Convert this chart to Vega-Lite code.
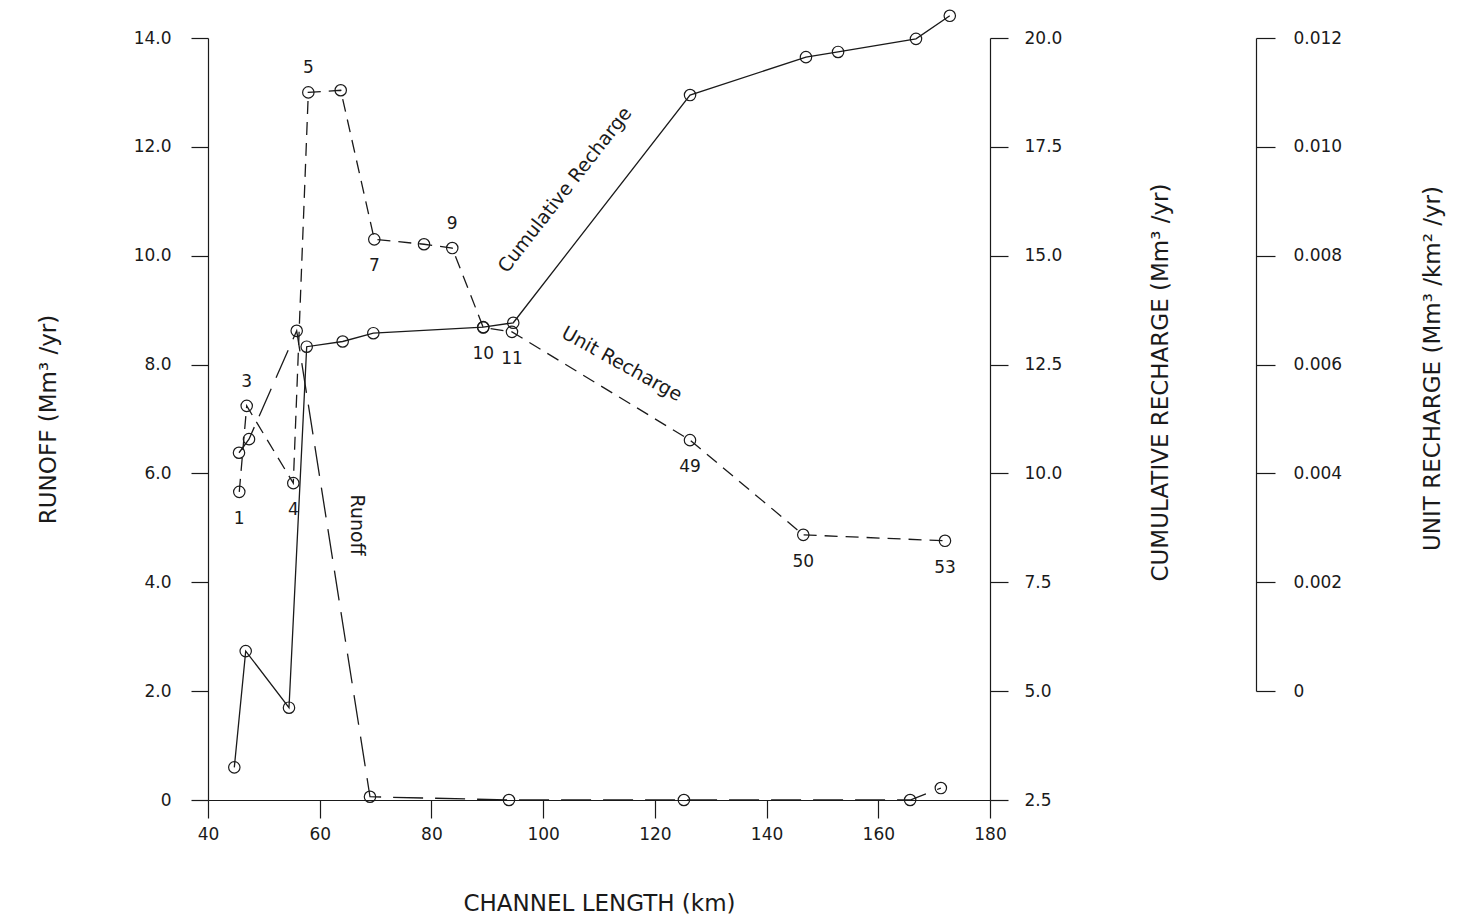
{
  "$schema": "https://vega.github.io/schema/vega-lite/v6.json",
  "width": 782,
  "height": 762,
  "autosize": {"type": "none"},
  "padding": {"left": 208, "top": 38, "right": 476, "bottom": 120},
  "background": "white",
  "config": {
    "view": {"stroke": null},
    "axis": {
      "grid": false,
      "domainColor": "#1a1a1a",
      "domainWidth": 1.2,
      "tickColor": "#1a1a1a",
      "tickWidth": 1.2,
      "labelFont": "DejaVu Sans",
      "labelFontSize": 17,
      "labelColor": "#1a1a1a",
      "labelFlush": false,
      "labelOverlap": false,
      "labelBound": false,
      "titleFont": "DejaVu Sans",
      "titleFontSize": 23,
      "titleFontWeight": "normal",
      "titleColor": "#1a1a1a"
    }
  },
  "datasets": {
    "runoff": [
      {"km": 45.55, "runoff": 6.38},
      {"km": 47.34, "runoff": 6.63},
      {"km": 55.88, "runoff": 8.62},
      {"km": 69.0, "runoff": 0.06},
      {"km": 93.88, "runoff": 0.0},
      {"km": 125.2, "runoff": 0.0},
      {"km": 165.7, "runoff": 0.0},
      {"km": 171.2, "runoff": 0.22}
    ],
    "cumulative": [
      {"km": 44.71, "cumulative": 3.25},
      {"km": 46.75, "cumulative": 5.92},
      {"km": 54.5, "cumulative": 4.62},
      {"km": 57.67, "cumulative": 12.91},
      {"km": 64.11, "cumulative": 13.03},
      {"km": 69.6, "cumulative": 13.22},
      {"km": 89.28, "cumulative": 13.36},
      {"km": 94.65, "cumulative": 13.46},
      {"km": 126.3, "cumulative": 18.69},
      {"km": 147.05, "cumulative": 19.56},
      {"km": 152.8, "cumulative": 19.68},
      {"km": 166.75, "cumulative": 19.98},
      {"km": 172.8, "cumulative": 20.51}
    ],
    "unit": [
      {"km": 45.6, "unit": 0.00366, "label": "1"},
      {"km": 46.93, "unit": 0.00524, "label": "3"},
      {"km": 55.27, "unit": 0.00382, "label": "4"},
      {"km": 57.96, "unit": 0.011, "label": "5"},
      {"km": 63.76, "unit": 0.01104, "label": ""},
      {"km": 69.77, "unit": 0.0083, "label": "7"},
      {"km": 78.67, "unit": 0.00821, "label": ""},
      {"km": 83.73, "unit": 0.00814, "label": "9"},
      {"km": 89.28, "unit": 0.00668, "label": "10"},
      {"km": 94.42, "unit": 0.0066, "label": "11"},
      {"km": 126.29, "unit": 0.00461, "label": "49"},
      {"km": 146.57, "unit": 0.00287, "label": "50"},
      {"km": 171.94, "unit": 0.00276, "label": "53"}
    ],
    "notes": [
      {"km": 103.9, "runoff": 11.21, "note": "Cumulative Recharge"},
      {"km": 114.1, "runoff": 8.01, "note": "Unit Recharge"},
      {"km": 66.67, "runoff": 5.05, "note": "Runoff"}
    ]
  },
  "encoding": {
    "x": {
      "field": "km",
      "type": "quantitative",
      "scale": {"domain": [40, 180], "nice": false, "zero": false},
      "axis": {
        "values": [40, 60, 80, 100, 120, 140, 160, 180],
        "format": "d",
        "tickSize": 18,
        "labelPadding": 8,
        "title": "CHANNEL LENGTH (km)",
        "titleY": 103,
        "titleBaseline": "middle"
      }
    }
  },
  "layer": [
    {
      "layer": [
        {
          "data": {"name": "runoff"},
          "mark": {"type": "line", "color": "#1a1a1a", "strokeWidth": 1.3, "strokeDash": [30, 12]},
          "encoding": {
            "y": {
              "field": "runoff",
              "type": "quantitative",
              "scale": {"domain": [0, 14], "nice": false, "zero": false},
              "axis": {
                "orient": "left",
                "values": [0, 2, 4, 6, 8, 10, 12, 14],
                "labelExpr": "datum.value === 0 ? '0' : format(datum.value, '.1f')",
                "tickSize": 17,
                "labelPadding": 20,
                "title": "RUNOFF (Mm³ /yr)",
                "titleX": -160,
                "titleY": 381,
                "titleAngle": 270,
                "titleAlign": "center",
                "titleBaseline": "middle"
              }
            }
          }
        },
        {
          "data": {"name": "runoff"},
          "mark": {"type": "point", "filled": false, "color": "#1a1a1a", "strokeWidth": 1.2, "size": 130, "opacity": 1},
          "encoding": {"y": {"field": "runoff", "type": "quantitative"}}
        },
        {
          "data": {"name": "notes"},
          "transform": [{"filter": "datum.note === 'Cumulative Recharge'"}],
          "mark": {"type": "text", "font": "DejaVu Sans", "fontSize": 19, "color": "#1a1a1a", "angle": -52, "align": "center", "baseline": "middle"},
          "encoding": {"y": {"field": "runoff", "type": "quantitative"}, "text": {"field": "note"}}
        },
        {
          "data": {"name": "notes"},
          "transform": [{"filter": "datum.note === 'Unit Recharge'"}],
          "mark": {"type": "text", "font": "DejaVu Sans", "fontSize": 19, "color": "#1a1a1a", "angle": 29, "align": "center", "baseline": "middle"},
          "encoding": {"y": {"field": "runoff", "type": "quantitative"}, "text": {"field": "note"}}
        },
        {
          "data": {"name": "notes"},
          "transform": [{"filter": "datum.note === 'Runoff'"}],
          "mark": {"type": "text", "font": "DejaVu Sans", "fontSize": 19, "color": "#1a1a1a", "angle": 90, "align": "center", "baseline": "middle"},
          "encoding": {"y": {"field": "runoff", "type": "quantitative"}, "text": {"field": "note"}}
        }
      ]
    },
    {
      "layer": [
        {
          "data": {"name": "cumulative"},
          "mark": {"type": "line", "color": "#1a1a1a", "strokeWidth": 1.3},
          "encoding": {
            "y": {
              "field": "cumulative",
              "type": "quantitative",
              "scale": {"domain": [2.5, 20], "nice": false, "zero": false},
              "axis": {
                "orient": "right",
                "values": [2.5, 5, 7.5, 10, 12.5, 15, 17.5, 20],
                "format": ".1f",
                "tickSize": 18,
                "labelPadding": 16,
                "title": "CUMULATIVE RECHARGE (Mm³ /yr)",
                "titleX": 170,
                "titleY": 344,
                "titleAngle": 270,
                "titleAlign": "center",
                "titleBaseline": "middle"
              }
            }
          }
        },
        {
          "data": {"name": "cumulative"},
          "mark": {"type": "point", "filled": false, "color": "#1a1a1a", "strokeWidth": 1.2, "size": 130, "opacity": 1},
          "encoding": {"y": {"field": "cumulative", "type": "quantitative"}}
        }
      ]
    },
    {
      "layer": [
        {
          "data": {"name": "unit"},
          "mark": {"type": "line", "color": "#1a1a1a", "strokeWidth": 1.3, "strokeDash": [13, 8]},
          "encoding": {
            "y": {
              "field": "unit",
              "type": "quantitative",
              "scale": {"domain": [0, 0.012], "range": [653, 0], "nice": false, "zero": false},
              "axis": {
                "orient": "right",
                "offset": 266,
                "values": [0, 0.002, 0.004, 0.006, 0.008, 0.01, 0.012],
                "labelExpr": "datum.value === 0 ? '0' : format(datum.value, '.3f')",
                "tickSize": 19,
                "labelPadding": 18,
                "title": "UNIT RECHARGE (Mm³ /km² /yr)",
                "titleX": 176,
                "titleY": 330,
                "titleAngle": 270,
                "titleAlign": "center",
                "titleBaseline": "middle"
              }
            }
          }
        },
        {
          "data": {"name": "unit"},
          "mark": {"type": "point", "filled": false, "color": "#1a1a1a", "strokeWidth": 1.2, "size": 130, "opacity": 1},
          "encoding": {"y": {"field": "unit", "type": "quantitative"}}
        },
        {
          "data": {"name": "unit"},
          "transform": [{"filter": "datum.label === '3' || datum.label === '5' || datum.label === '9'"}],
          "mark": {"type": "text", "font": "DejaVu Sans", "fontSize": 17, "color": "#1a1a1a", "dy": -24, "align": "center", "baseline": "middle"},
          "encoding": {"y": {"field": "unit", "type": "quantitative"}, "text": {"field": "label"}}
        },
        {
          "data": {"name": "unit"},
          "transform": [{"filter": "datum.label !== '' && datum.label !== '3' && datum.label !== '5' && datum.label !== '9'"}],
          "mark": {"type": "text", "font": "DejaVu Sans", "fontSize": 17, "color": "#1a1a1a", "dy": 27, "align": "center", "baseline": "middle"},
          "encoding": {"y": {"field": "unit", "type": "quantitative"}, "text": {"field": "label"}}
        }
      ]
    }
  ],
  "resolve": {"scale": {"y": "independent"}, "axis": {"y": "independent"}}
}
